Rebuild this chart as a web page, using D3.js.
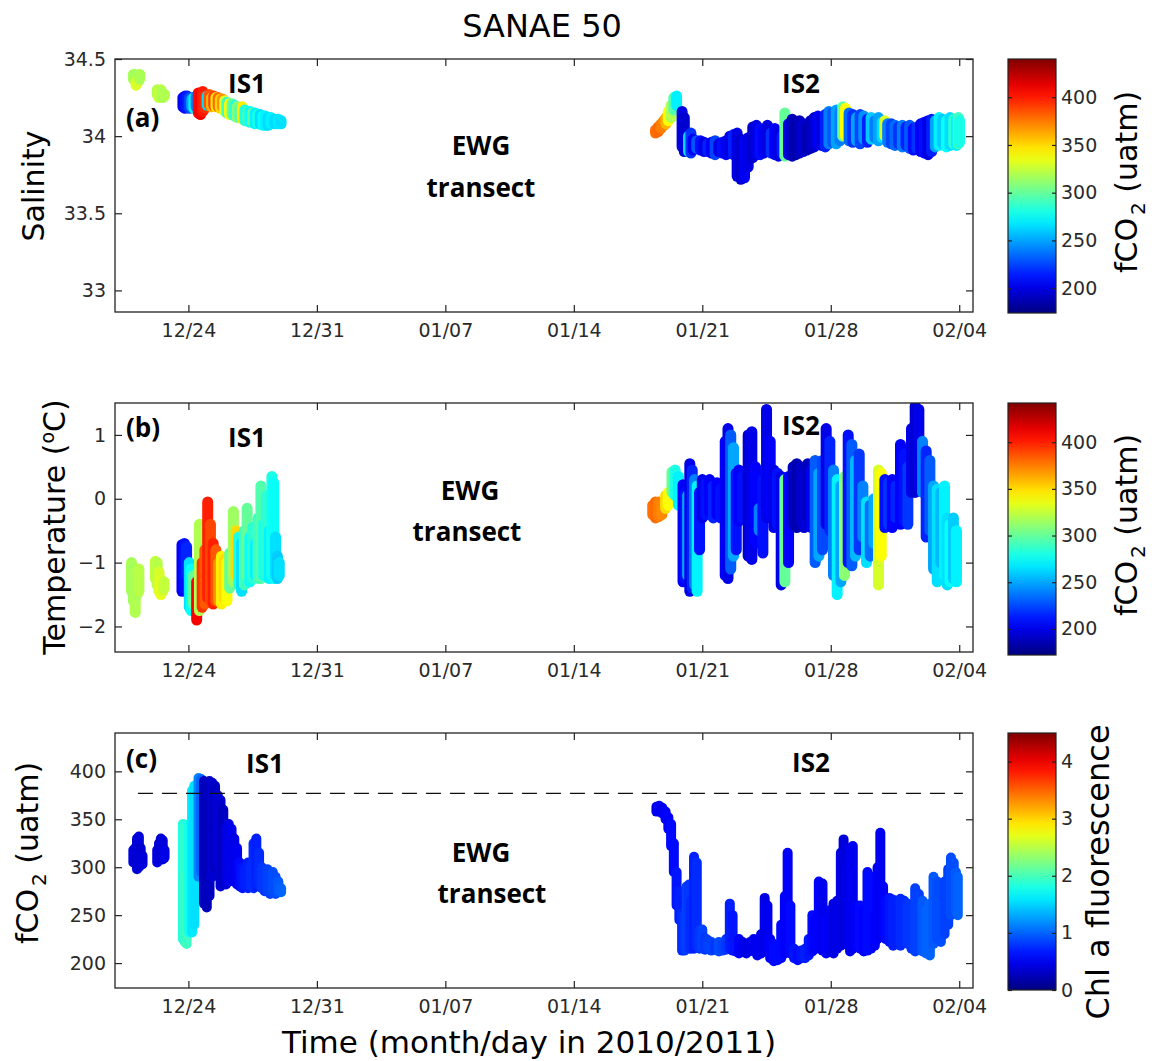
<!DOCTYPE html>
<html><head><meta charset="utf-8">
<script src="https://cdn.jsdelivr.net/npm/d3@7"></script>
<style>body{margin:0;background:#fff}</style>
</head><body>
<svg id="chart" width="1155" height="1061"></svg>
<script>
// ---------------- DATA ----------------
const startDate = "2010-12-20T00:00:00Z";
const endDate = "2011-02-04T18:00:00Z";
const tickDates = ["2010-12-24","2010-12-31","2011-01-07","2011-01-14","2011-01-21","2011-01-28","2011-02-04"];
const salTicks = [33, 33.5, 34, 34.5];
const tempTicks = [-2, -1, 0, 1];
const fco2Ticks = [200, 250, 300, 350, 400];
const fco2BarTicks = [200, 250, 300, 350, 400];
const chlBarTicks = [0, 1, 2, 3, 4];
const atmFco2 = 377;            // dashed line value
const atmRange = [1.25, 46.2];  // days since 2010-12-20

// columns: [day since 2010-12-20, low, high, colour value]
const salIS1 = [
 [1.0,34.37,34.40,318],[1.12,34.36,34.40,316],[1.25,34.35,34.39,320],[1.15,34.33,34.35,330],[1.35,34.37,34.40,318],
 [2.3,34.27,34.30,320],[2.4,34.25,34.29,325],[2.5,34.26,34.30,322],[2.6,34.25,34.28,318],[2.7,34.26,34.27,320],
 [3.7,34.19,34.25,205],[3.82,34.18,34.26,210],[3.94,34.19,34.26,215],[4.06,34.18,34.25,225],
 [4.18,34.19,34.24,250],[4.3,34.18,34.25,270],[4.42,34.19,34.26,240],[4.54,34.15,34.28,405],
 [4.66,34.14,34.27,410],[4.78,34.16,34.29,400],[4.9,34.18,34.26,395],[5.02,34.20,34.26,265],
 [5.14,34.20,34.27,385],[5.26,34.19,34.25,360],[5.38,34.20,34.26,390],[5.5,34.19,34.25,345],
 [5.62,34.19,34.25,380],[5.74,34.18,34.24,350],[5.86,34.19,34.24,370],[5.98,34.16,34.23,330],
 [6.1,34.15,34.22,290],[6.24,34.14,34.21,340],[6.38,34.14,34.21,300],[6.52,34.13,34.20,285],
 [6.66,34.12,34.19,310],[6.8,34.12,34.18,295],[6.94,34.11,34.19,345],[7.08,34.10,34.17,280],
 [7.22,34.10,34.16,290],[7.36,34.09,34.16,275],[7.5,34.09,34.15,300],[7.64,34.08,34.15,270],
 [7.78,34.08,34.14,280],[7.92,34.08,34.14,265],[8.06,34.07,34.13,275],[8.2,34.07,34.13,270],
 [8.34,34.07,34.12,265],[8.5,34.08,34.12,270],[8.7,34.08,34.11,265],[8.9,34.08,34.11,268],[9.05,34.08,34.10,266]
];
const salIS2 = [
 [29.45,34.02,34.04,378],[29.6,34.03,34.06,380],[29.75,34.05,34.08,375],[29.9,34.07,34.10,372],
 [30.02,34.08,34.12,360],[30.15,34.10,34.16,340],[30.3,34.12,34.20,320],[30.45,34.17,34.25,295],
 [30.6,34.20,34.26,270],[30.9,33.93,34.16,200],[31.02,33.90,34.12,195],[31.12,33.92,34.0,200],
 [31.25,33.90,34.0,265],[31.38,33.89,34.02,220],[31.5,33.91,33.98,205],[31.7,33.92,33.97,230],
 [31.9,33.91,33.97,210],[32.1,33.90,33.96,200],[32.3,33.90,33.95,215],[32.5,33.89,33.96,205],
 [32.7,33.88,33.97,225],[32.9,33.90,33.95,200],[33.1,33.89,33.96,210],[33.3,33.88,33.97,205],
 [33.5,33.89,34.00,200],[33.7,33.88,34.01,215],[33.9,33.74,34.02,200],[34.1,33.72,33.98,195],
 [34.3,33.73,33.97,205],[34.5,33.80,33.99,200],[34.75,33.86,34.06,195],[34.95,33.88,34.07,200],
 [35.15,33.88,34.05,210],[35.35,33.89,34.04,205],[35.55,33.90,34.07,200],[35.75,33.89,34.02,220],
 [35.95,33.88,34.05,205],[36.15,33.87,34.03,200],[36.35,33.89,34.0,215],[36.5,33.87,34.15,300],
 [36.7,33.88,34.08,200],[36.9,33.87,34.11,190],[37.1,33.88,34.09,185],[37.3,33.89,34.10,190],
 [37.5,33.90,34.08,195],[37.7,33.91,34.06,188],[37.9,33.92,34.10,190],[38.1,33.93,34.12,195],
 [38.3,33.95,34.13,205],[38.5,33.94,34.11,200],[38.7,33.93,34.14,215],[38.9,33.95,34.16,240],
 [39.1,33.96,34.15,230],[39.3,33.95,34.17,250],[39.5,33.97,34.16,240],[39.65,34.0,34.19,300],
 [39.8,34.0,34.18,340],[40.0,33.97,34.15,235],[40.2,33.96,34.14,220],[40.4,33.97,34.12,250],
 [40.6,33.95,34.14,225],[40.8,33.98,34.13,245],[41.0,33.96,34.11,215],[41.2,33.98,34.12,260],
 [41.4,33.99,34.10,240],[41.6,33.97,34.12,250],[41.8,33.99,34.09,265],[41.95,34.0,34.10,330],
 [42.1,33.96,34.08,240],[42.3,33.95,34.08,225],[42.5,33.94,34.07,235],[42.7,33.95,34.06,220],
 [42.9,33.93,34.07,240],[43.1,33.94,34.06,215],[43.3,33.92,34.07,230],[43.5,33.91,34.05,210],
 [43.7,33.92,34.06,220],[43.9,33.90,34.08,205],[44.1,33.89,34.09,210],[44.3,33.88,34.10,200],
 [44.5,33.90,34.11,215],[44.7,33.93,34.10,250],[44.9,33.94,34.12,270],[45.1,33.95,34.11,260],
 [45.3,33.93,34.10,275],[45.5,33.94,34.12,265],[45.7,33.95,34.11,285],[45.85,33.94,34.10,270],
 [45.95,33.95,34.12,290],[46.02,33.96,34.10,280]
];
const tempIS1 = [
 [0.9,-1.45,-1.0,318],[1.0,-1.6,-1.1,315],[1.1,-1.78,-1.15,320],[1.2,-1.5,-1.2,318],[1.3,-1.45,-1.1,322],
 [2.2,-1.25,-0.98,325],[2.3,-1.35,-1.0,322],[2.4,-1.45,-1.15,330],[2.5,-1.5,-1.3,335],
 [2.6,-1.45,-1.3,330],[2.68,-1.4,-1.3,325],
 [3.65,-1.45,-0.72,205],[3.78,-1.4,-0.7,210],[3.9,-1.2,-0.75,215],
 [4.05,-1.7,-1.0,265],[4.15,-1.75,-1.1,275],[4.28,-1.65,-1.2,300],
 [4.45,-1.9,-1.3,410],[4.6,-1.75,-0.4,320],[4.75,-1.7,-1.0,395],[4.9,-1.65,-0.8,385],
 [5.05,-1.55,-0.05,400],[5.2,-1.6,-0.4,390],[5.35,-1.65,-0.7,400],[5.5,-1.6,-0.8,385],
 [5.65,-1.6,-1.0,370],[5.8,-1.65,-0.9,345],[5.95,-1.55,-0.95,350],[6.1,-1.6,-1.0,340],
 [6.25,-1.4,-0.85,300],[6.45,-1.3,-0.2,315],[6.6,-1.2,-0.5,350],
 [6.75,-1.35,-0.6,280],[6.9,-1.45,-0.7,265],[7.05,-1.35,-0.5,290],[7.2,-1.2,-0.15,300],
 [7.35,-1.3,-0.6,275],[7.5,-1.25,-0.45,285],[7.65,-1.2,-0.7,270],[7.8,-1.25,-0.3,290],
 [7.95,-1.25,0.2,295],[8.1,-1.2,-0.4,280],[8.25,-1.15,0.05,285],[8.4,-1.25,-0.5,270],
 [8.55,-1.2,0.35,280],[8.65,-1.25,0.25,275],[8.75,-1.2,-0.6,265],[8.85,-1.25,-0.9,260],[8.95,-1.2,-1.0,265]
];
const tempIS2 = [
 [29.3,-0.25,-0.1,378],[29.45,-0.3,-0.05,380],[29.62,-0.28,-0.05,375],[29.8,-0.25,-0.08,372],
 [30.0,-0.15,0.05,350],[30.15,-0.1,0.1,340],[30.35,0.1,0.42,300],[30.52,0.05,0.45,280],[30.7,-0.1,0.35,270],
 [30.95,-1.3,0.22,205],[31.08,-1.25,0.1,210],[31.2,-1.2,0.05,250],[31.32,-1.45,0.55,200],
 [31.45,-1.4,0.45,215],[31.58,-1.35,0.3,240],[31.72,-1.45,0.2,270],[31.85,-0.8,0.1,210],
 [32.0,-0.3,0.3,200],[32.2,-0.25,0.25,210],[32.4,-0.2,0.3,205],[32.6,-0.3,0.2,215],
 [32.8,-0.25,0.25,205],[33.0,-0.3,0.15,210],[33.25,-1.2,0.9,205],[33.4,-1.25,1.1,200],
 [33.55,-1.1,1.0,230],[33.7,-0.9,0.8,250],[33.85,-0.8,0.4,210],[34.0,-0.35,0.45,205],
 [34.2,-0.3,0.35,210],[34.5,-0.9,1.0,195],[34.7,-0.95,1.05,200],[34.9,-0.7,0.5,205],
 [35.1,-0.5,-0.15,240],[35.3,-0.85,0.3,210],[35.5,-0.3,1.4,200],[35.7,-0.25,0.9,205],
 [35.9,-0.45,0.45,200],[36.1,-0.4,0.4,210],[36.3,-1.35,0.35,200],[36.5,-1.3,0.3,300],
 [36.7,-1.0,0.35,205],[36.95,-0.4,0.5,190],[37.15,-0.45,0.55,185],[37.35,-0.35,0.5,190],
 [37.55,-0.45,0.4,195],[37.75,-0.3,0.55,190],[37.95,-0.45,0.45,200],[38.15,-1.0,0.6,230],
 [38.35,-0.9,0.4,250],[38.55,-0.8,0.6,225],[38.75,-0.4,1.1,200],[38.95,-0.5,0.9,215],
 [39.15,-1.2,0.45,240],[39.35,-1.5,0.3,270],[39.55,-1.3,0.2,250],[39.75,-1.2,0.35,310],
 [39.95,-1.0,1.0,210],[40.15,-1.05,0.85,230],[40.35,-0.9,0.6,255],[40.55,-0.8,0.7,220],
 [40.75,-0.6,0.2,240],[40.95,-1.0,-0.05,265],[41.15,-0.9,-0.1,235],[41.35,-0.7,0.0,250],
 [41.6,-1.35,0.45,330],[41.75,-0.9,0.4,340],[41.95,-0.45,0.3,210],[42.15,-0.4,0.25,220],
 [42.35,-0.45,0.3,205],[42.55,-0.3,0.2,215],[42.8,-0.4,0.85,205],[43.0,-0.35,0.7,210],
 [43.2,-0.4,0.5,220],[43.4,0.1,1.1,200],[43.6,0.1,1.45,195],[43.8,0.2,1.4,200],
 [44.0,0.1,0.9,240],[44.2,-0.6,0.75,215],[44.4,-0.5,0.6,230],[44.6,-1.1,0.2,250],
 [44.8,-1.3,0.15,265],[45.0,-1.0,0.1,255],[45.2,-1.2,0.2,270],[45.35,-1.35,-0.3,265],
 [45.5,-1.3,-0.4,275],[45.68,-1.25,-0.3,260],[45.85,-1.3,-0.5,270]
];
const fco2IS1 = [
 [1.0,305,318,0.45],[1.1,305,320,0.4],[1.2,298,330,0.35],[1.3,300,332,0.4],[1.4,302,320,0.35],[1.5,303,312,0.4],
 [2.3,305,318,0.45],[2.4,308,325,0.4],[2.5,310,330,0.35],[2.6,308,328,0.4],[2.7,310,318,0.45],
 [3.7,225,345,1.85],[3.8,222,340,1.9],[3.9,220,290,1.95],[4.05,232,345,1.75],[4.2,232,380,1.6],
 [4.32,240,385,1.55],[4.55,290,393,1.15],[4.7,295,392,1.0],
 [4.85,262,390,0.3],[5.0,258,385,0.25],[5.15,270,390,0.3],[5.3,290,388,0.35],[5.45,300,385,0.3],
 [5.6,305,375,0.4],[5.75,280,370,0.35],[5.9,285,360,0.3],[6.05,282,340,0.4],[6.2,285,345,0.45],
 [6.35,290,340,0.5],[6.5,285,330,0.45],[6.65,282,320,0.5],
 [6.8,280,305,0.6],[6.95,278,300,0.65],[7.1,280,298,0.7],[7.25,278,305,0.7],[7.4,280,302,0.75],
 [7.55,278,325,0.75],[7.7,280,330,0.7],[7.85,282,315,0.75],[8.0,278,300,0.8],[8.15,275,295,0.8],
 [8.3,275,298,0.85],[8.45,272,290,0.85],[8.6,275,295,0.9],[8.75,272,290,0.9],[8.9,275,285,0.95],
 [9.05,274,278,1.0]
];
const fco2IS2 = [
 [29.5,358,363,0.5],[29.65,358,364,0.5],[29.82,356,362,0.5],[30.0,350,358,0.55],[30.15,340,352,0.55],
 [30.3,322,345,0.6],[30.45,295,325,0.6],[30.6,260,295,0.65],[30.75,245,275,0.7],[30.9,213,252,0.75],
 [31.02,213,250,0.8],[31.15,215,280,0.85],[31.28,215,282,0.8],[31.4,215,265,0.75],[31.55,215,311,0.7],
 [31.7,218,305,0.75],[31.85,215,235,0.8],[32.0,216,235,0.85],[32.15,214,226,0.8],[32.3,215,224,0.85],
 [32.5,213,222,0.85],[32.7,214,220,0.8],[32.9,212,222,0.9],[33.1,213,220,0.85],[33.3,214,225,0.8],
 [33.5,215,262,0.7],[33.65,213,250,0.65],[33.8,212,225,0.65],[34.0,210,225,0.55],[34.2,212,222,0.5],
 [34.4,210,220,0.45],[34.6,213,222,0.45],[34.8,212,225,0.5],[35.0,208,222,0.5],[35.2,210,230,0.5],
 [35.4,212,268,0.45],[35.55,215,260,0.5],[35.7,205,225,0.55],[35.9,202,220,0.6],[36.1,203,215,0.6],
 [36.3,205,240,0.6],[36.5,210,270,0.55],[36.65,215,315,0.55],[36.8,210,260,0.6],[37.0,205,215,0.65],
 [37.2,203,212,0.6],[37.4,205,213,0.65],[37.6,205,215,0.7],[37.8,208,225,0.65],[38.0,212,250,0.6],
 [38.15,215,245,0.55],[38.35,215,285,0.55],[38.55,213,283,0.5],[38.75,210,245,0.55],[38.95,212,255,0.5],
 [39.15,210,262,0.45],[39.35,215,265,0.45],[39.55,218,315,0.45],[39.7,220,329,0.4],[39.85,222,300,0.45],
 [40.05,212,320,0.5],[40.2,215,322,0.5],[40.4,218,260,0.55],[40.6,215,260,0.6],[40.8,212,255,0.55],
 [41.0,213,295,0.6],[41.2,215,290,0.6],[41.4,218,250,0.55],[41.55,225,300,0.55],[41.7,228,336,0.5],
 [41.85,230,280,0.55],[42.0,225,265,0.6],[42.2,222,268,0.65],[42.4,218,266,0.7],[42.6,220,265,0.7],
 [42.8,218,267,0.75],[43.0,222,265,0.75],[43.2,220,262,0.8],[43.4,215,258,0.8],[43.6,212,278,0.85],
 [43.8,215,272,0.85],[44.0,212,265,0.95],[44.2,210,255,1.0],[44.4,208,262,1.0],[44.6,220,290,0.95],
 [44.8,225,285,0.9],[45.0,222,282,0.9],[45.2,230,285,0.85],[45.4,240,298,0.85],[45.55,250,310,0.9],
 [45.7,258,305,0.9],[45.82,252,295,0.95],[45.92,250,290,1.0]
];

// ---------------- RENDER ----------------
const svg = d3.select("#chart");
const TICKFONT = "'DejaVu Sans', sans-serif";
const BOLDFONT = "'Open Sans', 'DejaVu Sans', sans-serif";
const t0 = new Date(startDate).getTime();
const dayToDate = d => new Date(t0 + d * 864e5);
const x = d3.scaleUtc().domain([new Date(startDate), new Date(endDate)]).range([115, 973]);
const fmt = d3.utcFormat("%m/%d");
const tickVals = tickDates.map(s => new Date(s + "T00:00:00Z"));

function jet(t) {
  t = Math.max(0, Math.min(1, t));
  const c = v => Math.round(255 * Math.max(0, Math.min(1, v)));
  return `rgb(${c(1.5 - Math.abs(4*t - 3))},${c(1.5 - Math.abs(4*t - 2))},${c(1.5 - Math.abs(4*t - 1))})`;
}

const panels = [
  {id:"a", top:59, bottom:312, dom:[32.86,34.5], ticks:salTicks, tf:d3.format(".3~f"), data:[salIS1, salIS2],
   cdom:[174,440], sw:11, cbTop:59, cbBot:313, cbTicks:fco2BarTicks},
  {id:"b", top:403, bottom:652, dom:[-2.4,1.5], ticks:tempTicks, tf:d3.format("d"), data:[tempIS1, tempIS2],
   cdom:[172,442], sw:11, cbTop:403, cbBot:655, cbTicks:fco2BarTicks},
  {id:"c", top:733, bottom:988, dom:[174,440], ticks:fco2Ticks, tf:d3.format("d"), data:[fco2IS1, fco2IS2],
   cdom:[0,4.5], sw:10, cbTop:733, cbBot:990, cbTicks:chlBarTicks}
];

const defs = svg.append("defs");

panels.forEach(p => {
  const y = d3.scaleLinear().domain(p.dom).range([p.bottom, p.top]);
  const col = d3.scaleLinear().domain(p.cdom).range([0,1]);
  defs.append("clipPath").attr("id","clip"+p.id).append("rect")
    .attr("x",115).attr("y",p.top).attr("width",858).attr("height",p.bottom-p.top);
  const g = svg.append("g");
  const dg = g.append("g").attr("clip-path",`url(#clip${p.id})`);
  p.data.forEach(arr => {
    dg.append("g").selectAll("line").data(arr).join("line")
      .attr("x1", d => x(dayToDate(d[0]))).attr("x2", d => x(dayToDate(d[0])))
      .attr("y1", d => y(d[1])).attr("y2", d => y(d[2]))
      .attr("stroke", d => jet(col(d[3])))
      .attr("stroke-width", p.sw).attr("stroke-linecap","round");
  });
  if (p.id === "c") {
    g.append("line")
      .attr("x1", x(dayToDate(atmRange[0]))).attr("x2", x(dayToDate(atmRange[1])))
      .attr("y1", y(atmFco2)).attr("y2", y(atmFco2))
      .attr("stroke","#111").attr("stroke-width",1.4).attr("stroke-dasharray","15,9");
  }
  const ax = [
    g.append("g").attr("transform",`translate(0,${p.bottom})`)
      .call(d3.axisBottom(x).tickValues(tickVals).tickFormat(fmt).tickSize(-7).tickSizeOuter(0).tickPadding(12)),
    g.append("g").attr("transform",`translate(0,${p.top})`)
      .call(d3.axisTop(x).tickValues(tickVals).tickFormat("").tickSize(-7).tickSizeOuter(0)),
    g.append("g").attr("transform",`translate(115,0)`)
      .call(d3.axisLeft(y).tickValues(p.ticks).tickFormat(p.tf).tickSize(-7).tickSizeOuter(0).tickPadding(9)),
    g.append("g").attr("transform",`translate(973,0)`)
      .call(d3.axisRight(y).tickValues(p.ticks).tickFormat("").tickSize(-7).tickSizeOuter(0))
  ];
  ax.forEach(a => {
    a.select(".domain").remove();
    a.selectAll("line").attr("stroke","#222").attr("stroke-width",1.2);
    a.selectAll("text").attr("font-family",TICKFONT).attr("font-size",19).attr("fill","#2a2a2a");
  });
  g.append("rect").attr("x",115).attr("y",p.top).attr("width",858).attr("height",p.bottom-p.top)
    .attr("fill","none").attr("stroke","#222").attr("stroke-width",1.3);

  // colorbar
  const cb = d3.scaleLinear().domain(p.cdom).range([p.cbBot, p.cbTop]);
  const gid = "grad"+p.id;
  const grad = defs.append("linearGradient").attr("id",gid).attr("x1",0).attr("x2",0).attr("y1",1).attr("y2",0);
  d3.range(0,1.0001,0.05).forEach(t => grad.append("stop").attr("offset",t).attr("stop-color",jet(t)));
  const cg = svg.append("g");
  cg.append("rect").attr("x",1008).attr("y",p.cbTop).attr("width",48).attr("height",p.cbBot-p.cbTop)
    .attr("fill",`url(#${gid})`).attr("stroke","#222").attr("stroke-width",1.2);
  const cax = cg.append("g").attr("transform","translate(1056,0)")
    .call(d3.axisRight(cb).tickValues(p.cbTicks).tickFormat(d3.format("d")).tickSize(-4).tickSizeOuter(0).tickPadding(5));
  const caxL = cg.append("g").attr("transform","translate(1008,0)")
    .call(d3.axisLeft(cb).tickValues(p.cbTicks).tickFormat("").tickSize(-4).tickSizeOuter(0));
  [cax, caxL].forEach(a => {
    a.select(".domain").remove();
    a.selectAll("line").attr("stroke","#222").attr("stroke-width",1.2);
    a.selectAll("text").attr("font-family",TICKFONT).attr("font-size",19).attr("fill","#2a2a2a");
  });
});

// ---------------- TEXT ----------------
const LABFONT = "'DejaVu Sans', sans-serif";
svg.append("text").attr("x",542).attr("y",37).attr("text-anchor","middle")
  .attr("font-family",LABFONT).attr("font-size",32).text("SANAE 50");
svg.append("text").attr("x",529).attr("y",1053).attr("text-anchor","middle")
  .attr("font-family",LABFONT).attr("font-size",31).text("Time (month/day in 2010/2011)");

function vlabel(xb, yc, build, size) {
  const t = svg.append("text").attr("transform",`translate(${xb},${yc}) rotate(-90)`)
    .attr("text-anchor","middle").attr("font-family",LABFONT).attr("font-size",size||30);
  build(t);
}
vlabel(44, 186, t => t.text("Salinity"));
vlabel(65, 527, t => { t.append("tspan").text("Temperature (");
  t.append("tspan").attr("dy",-11).attr("font-size",19).text("o");
  t.append("tspan").attr("dy",11).text("C)"); });
const fco2Label = t => { t.append("tspan").text("fCO");
  t.append("tspan").attr("dy",8).attr("dx",3).attr("font-size",20).text("2");
  t.append("tspan").attr("dy",-8).text(" (uatm)"); };
vlabel(38, 853, fco2Label);
vlabel(1137, 182, fco2Label);
vlabel(1137, 525, fco2Label);
vlabel(1109, 872, t => t.text("Chl a fluorescence"), 32);

const notes = [
  ["(a)",126,127,"start"],["IS1",247,93,"middle"],["IS2",801,93,"middle"],["EWG",481,155,"middle"],["transect",481,197,"middle"],
  ["(b)",126,437,"start"],["IS1",247,447,"middle"],["IS2",801,435,"middle"],["EWG",470,500,"middle"],["transect",467,541,"middle"],
  ["(c)",126,768,"start"],["IS1",265,773,"middle"],["IS2",811,772,"middle"],["EWG",481,862,"middle"],["transect",492,903,"middle"]
];
svg.append("g").selectAll("text").data(notes).join("text")
  .attr("x",d=>d[1]).attr("y",d=>d[2]).attr("text-anchor",d=>d[3])
  .attr("font-family",BOLDFONT).attr("font-weight",700).attr("font-size",26).attr("fill","#000")
  .text(d=>d[0]);
</script>
</body></html>
